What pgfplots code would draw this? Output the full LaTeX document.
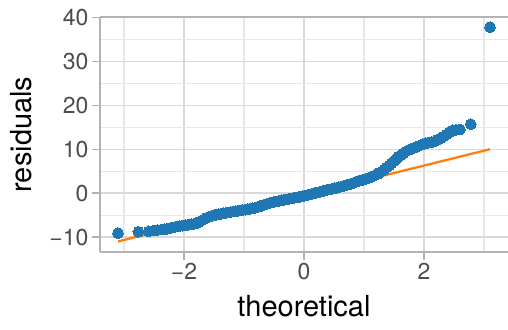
\documentclass[border=0pt]{standalone}
\usepackage{pgfplots}
\pgfplotsset{compat=1.18}
\usepackage{fontspec}
\setmainfont{TeX Gyre Heros}
\definecolor{qblue}{HTML}{1F77B4}
\definecolor{qorange}{HTML}{FF7F0E}
\definecolor{gridmaj}{HTML}{D9D9D9}
\definecolor{gridmin}{HTML}{E8E8E8}
\definecolor{axgray}{HTML}{B3B3B3}
\definecolor{tickgray}{HTML}{4D4D4D}
\begin{document}
\begin{tikzpicture}
\useasboundingbox (-100bp,-78bp) rectangle (408bp,252bp);
\begin{axis}[
 scale only axis, width=408bp, height=235bp,
 xmin=-3.4, xmax=3.4, ymin=-13.4, ymax=40.1,
 axis x line*=bottom, axis y line*=left,
 axis line style={axgray, line width=1.4bp},
 xtick={-2,0,2}, xticklabels={−2,0,2},
 ytick={-10,0,10,20,30,40}, yticklabels={−10,0,10,20,30,40},
 minor xtick={-3,-1,1,3}, minor ytick={-5,5,15,25,35},
 grid=both,
 major grid style={gridmaj, line width=1.3bp},
 minor grid style={gridmin, line width=1.2bp},
 tick align=outside, major tick length=8bp, minor tick length=0pt,
 tick style={axgray, line width=1.4bp},
 ticklabel style={font=\fontsize{23bp}{27bp}\selectfont, text=tickgray},
 label style={font=\fontsize{29bp}{34bp}\selectfont, text=black},
 xlabel={theoretical},
 xlabel style={at={(axis description cs:0.5,0)}, anchor=base, yshift=-64.7bp},
 ylabel={residuals},
 ylabel style={at={([xshift=-68bp]axis description cs:0,0.5)}, anchor=base},
 clip=false,
]
\addplot[qorange, line width=2.3bp, no marks] coordinates {(-3.1,-11.0) (3.1,10.0)};
\addplot[only marks, mark=*, mark size=5.4bp, mark options={fill=qblue, draw=qblue, line width=0pt}] coordinates {
(-3.10,-9.1) (-2.76,-8.8) (-2.59,-8.7) (-2.50,-8.5) (-2.44,-8.4) (-2.38,-8.3)
(-2.33,-8.2) (-2.28,-8.1) (-2.23,-8.0) (-2.18,-7.8) (-2.13,-7.6) (-2.08,-7.5)
(-2.03,-7.4) (-1.98,-7.3) (-1.93,-7.2) (-1.88,-7.1) (-1.83,-7.0) (-1.78,-6.8)
(-1.74,-6.5) (-1.70,-6.2) (-1.66,-5.9) (-1.62,-5.6) (-1.58,-5.4) (-1.54,-5.2)
(-1.50,-5.0) (-1.46,-4.9) (-1.42,-4.8) (-1.38,-4.7) (-1.34,-4.6) (-1.30,-4.5)
(-1.26,-4.4) (-1.22,-4.3) (-1.18,-4.2) (-1.14,-4.1) (-1.10,-4.0) (-1.06,-3.95)
(-1.02,-3.85) (-0.98,-3.75) (-0.94,-3.65) (-0.90,-3.55) (-0.86,-3.45) (-0.82,-3.35)
(-0.78,-3.2) (-0.74,-3.0) (-0.70,-2.85) (-0.66,-2.65) (-0.62,-2.45) (-0.58,-2.3)
(-0.54,-2.15) (-0.50,-2.0) (-0.46,-1.9) (-0.42,-1.8) (-0.38,-1.65) (-0.34,-1.55)
(-0.30,-1.45) (-0.26,-1.3) (-0.22,-1.2) (-0.18,-1.1) (-0.14,-1.0) (-0.10,-0.9)
(-0.06,-0.8) (-0.02,-0.7) (0.02,-0.55) (0.06,-0.4) (0.10,-0.3) (0.14,-0.15)
(0.18,0.0) (0.22,0.15) (0.26,0.3) (0.30,0.45) (0.34,0.55) (0.38,0.7)
(0.42,0.85) (0.46,0.95) (0.50,1.1) (0.54,1.2) (0.58,1.35) (0.62,1.5)
(0.66,1.65) (0.70,1.8) (0.74,1.95) (0.78,2.1) (0.82,2.3) (0.86,2.5)
(0.90,2.7) (0.94,2.9) (0.98,3.05) (1.02,3.2) (1.06,3.35) (1.10,3.55)
(1.14,3.8) (1.18,4.05) (1.22,4.3) (1.26,4.65) (1.30,5.0) (1.34,5.4)
(1.38,5.85) (1.42,6.35) (1.46,6.8) (1.50,7.3) (1.54,7.8) (1.58,8.3)
(1.62,8.7) (1.66,9.1) (1.70,9.5) (1.74,9.8) (1.78,10.05) (1.82,10.25)
(1.86,10.45) (1.90,10.65) (1.94,10.9) (1.98,11.1) (2.03,11.35) (2.08,11.5)
(2.13,11.6) (2.18,11.8) (2.23,12.2) (2.28,12.5) (2.33,12.9) (2.38,13.4)
(2.43,13.9) (2.48,14.3) (2.53,14.4) (2.60,14.5) (2.78,15.7) (3.10,37.8)
};
\draw[axgray, line width=1.4bp] (rel axis cs:0,1) -- (rel axis cs:1,1);
\end{axis}
\end{tikzpicture}
\end{document}
